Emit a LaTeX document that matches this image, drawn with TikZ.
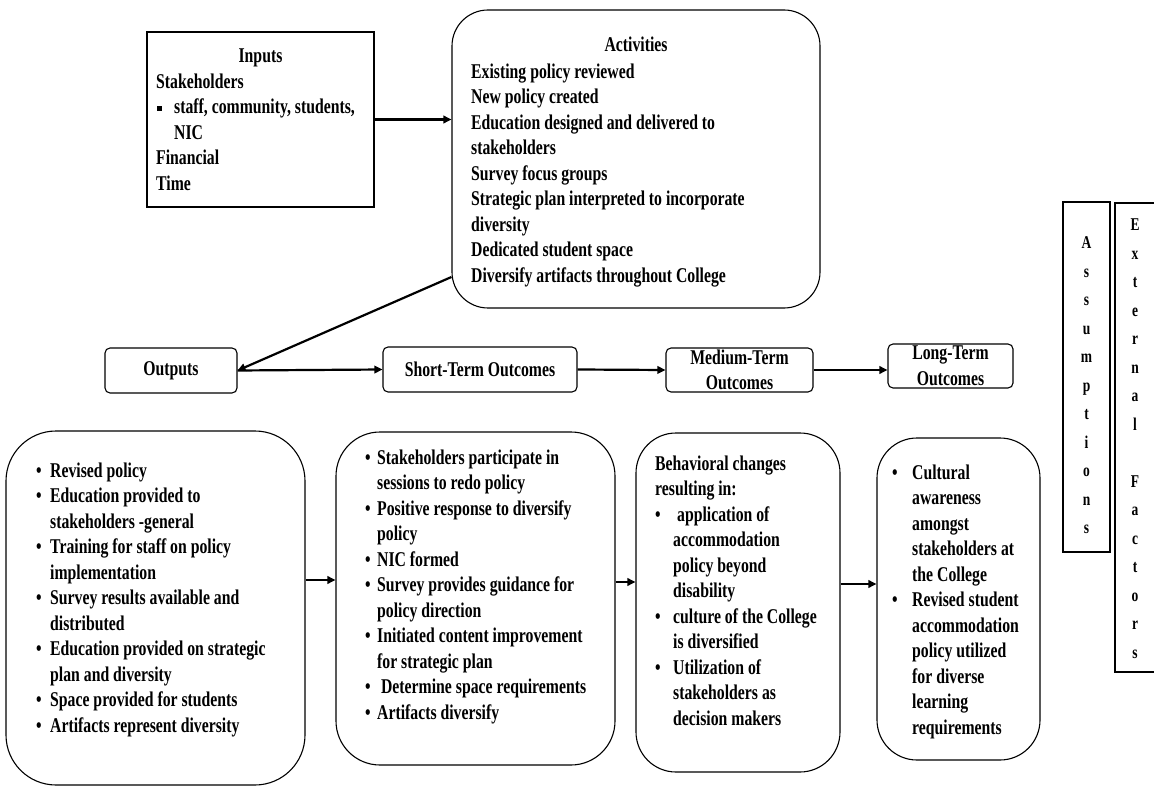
\documentclass[tikz,border=0pt]{standalone}
\usepackage{fontspec}
\setmainfont{Liberation Serif}[FakeStretch=0.75]
\usepackage{array}
\usetikzlibrary{arrows.meta}

% type sizes (the picture is laid out with 1pt = 1 unit)
\newcommand\bodytext{\fontsize{21}{25.5}\selectfont\bfseries}
\newcommand\lettertext{\fontsize{18}{28.5}\selectfont\bfseries}
% bullet cells of a given width
\newcommand\blt[1]{\makebox[#1][l]{\textbullet}}
\newcommand\sqblt{\makebox[18pt][l]{\hspace{1pt}\rule[3pt]{5pt}{5pt}}}

\begin{document}
\begin{tikzpicture}[x=1pt, y=-1pt, font=\bodytext,
  frame/.style={draw, line width=1.1pt, inner sep=0pt},
  roundframe/.style={frame, rounded corners=#1},
  listtext/.style={anchor=north west, inner sep=0pt},
  title/.style={anchor=base, inner sep=0pt},
  column/.style={inner sep=0pt, align=center, font=\lettertext},
  conn/.style={line width=2.2pt, -{Triangle[length=8pt,width=7.5pt]}}]

\fill[white] (0,0) rectangle (1154,786);
\useasboundingbox (0,0) rectangle (1154,786);

% ---------- top: inputs and activities ----------
\node[frame, minimum width=227pt, minimum height=175pt] (inp) at (260.5,119.5) {};
\node[title] (inptitle) at (260.5,63) {Inputs};
\node[listtext] (inplist) at (156,70) {\begin{tabular}{@{}l@{}l@{}}
\multicolumn{2}{@{}l@{}}{Stakeholders}\\
\sqblt & staff, community, students,\\
 & NIC\\
\multicolumn{2}{@{}l@{}}{Financial}\\
\multicolumn{2}{@{}l@{}}{Time}
\end{tabular}};

\node[roundframe=36pt, minimum width=368pt, minimum height=298pt] (act) at (636,159) {};
\node[title] (acttitle) at (636,52) {Activities};
\node[listtext] (actlist) at (471,60) {\begin{tabular}{@{}l@{}}
Existing policy reviewed\\
New policy created\\
Education designed and delivered to\\
stakeholders\\
Survey focus groups\\
Strategic plan interpreted to incorporate\\
diversity\\
Dedicated student space\\
Diversify artifacts throughout College
\end{tabular}};

% ---------- middle row of headings ----------
\node[roundframe=5pt, minimum width=132pt, minimum height=45pt] (out) at (171,370.5) {Outputs};
\node[roundframe=5pt, minimum width=194pt, minimum height=45pt] (short) at (480,369.5) {Short-Term Outcomes};
\node[roundframe=5pt, minimum width=147pt, minimum height=44pt, align=center] (med) at (739.5,370) {Medium-Term\\Outcomes};
\node[roundframe=5pt, minimum width=125pt, minimum height=44pt, align=center] (long) at (950.5,366) {Long-Term\\Outcomes};

% ---------- bottom row of detail boxes ----------
\node[roundframe=50pt, minimum width=299pt, minimum height=354pt] (b1) at (155.5,608) {};
\node[listtext] (b1list) at (36,459) {\begin{tabular}{@{}l@{}l@{}}
\blt{14pt} & Revised policy\\
\blt{14pt} & Education provided to\\
 & stakeholders -general\\
\blt{14pt} & Training for staff on policy\\
 & implementation\\
\blt{14pt} & Survey results available and\\
 & distributed\\
\blt{14pt} & Education provided on strategic\\
 & plan and diversity\\
\blt{14pt} & Space provided for students\\
\blt{14pt} & Artifacts represent diversity
\end{tabular}};

\node[roundframe=44pt, minimum width=279pt, minimum height=333pt] (b2) at (475.5,598.5) {};
\node[listtext] (b2list) at (365,446) {\begin{tabular}{@{}l@{}l@{}}
\blt{12pt} & Stakeholders participate in\\
 & sessions to redo policy\\
\blt{12pt} & Positive response to diversify\\
 & policy\\
\blt{12pt} & NIC formed\\
\blt{12pt} & Survey provides guidance for\\
 & policy direction\\
\blt{12pt} & Initiated content improvement\\
 & for strategic plan\\
\blt{12pt} & \ Determine space requirements\\
\blt{12pt} & Artifacts diversify
\end{tabular}};

\node[roundframe=40pt, minimum width=204pt, minimum height=339pt] (b3) at (738,602.5) {};
\node[listtext] (b3list) at (655,452) {\begin{tabular}{@{}l@{}l@{}}
\multicolumn{2}{@{}l@{}}{Behavioral changes}\\
\multicolumn{2}{@{}l@{}}{resulting in:}\\
\blt{18pt} & \ application of\\
 & accommodation\\
 & policy beyond\\
 & disability\\
\blt{18pt} & culture of the College\\
 & is diversified\\
\blt{18pt} & Utilization of\\
 & stakeholders as\\
 & decision makers
\end{tabular}};

\node[roundframe=40pt, minimum width=163pt, minimum height=322pt] (b4) at (958.5,599) {};
\node[listtext] (b4list) at (892,461) {\begin{tabular}{@{}l@{}l@{}}
\blt{20pt} & Cultural\\
 & awareness\\
 & amongst\\
 & stakeholders at\\
 & the College\\
\blt{20pt} & Revised student\\
 & accommodation\\
 & policy utilized\\
 & for diverse\\
 & learning\\
 & requirements
\end{tabular}};

% ---------- side columns, lettered vertically ----------
\node[frame, minimum width=47pt, minimum height=350pt] (assum) at (1086.5,377) {};
\node[column] (assumtext) at (1086.5,385.5) {A\\s\\s\\u\\m\\p\\t\\i\\o\\n\\s};
\node[frame, minimum width=42pt, minimum height=469pt] (ext) at (1136,437.5) {};
\node[column] (exttext) at (1135,438.5) {E\\x\\t\\e\\r\\n\\a\\l\\[28.5pt]F\\a\\c\\t\\o\\r\\s};

% ---------- connectors ----------
\draw[conn] (inp.east) -- (inp.east -| act.west);
\draw[conn] ([yshift=-118pt]act.west) -- (out.east);
\draw[conn] (out.east) -- (short.west);
\draw[conn] (short.east) -- (med.west);
\draw[conn] (med.east) -- (med.east -| long.west);
\draw[conn] ([yshift=28pt]b1.east) -- ([yshift=28pt]b1.east -| b2.west);
\draw[conn] ([yshift=16.5pt]b2.east) -- ([yshift=16.5pt]b2.east -| b3.west);
\draw[conn] ([yshift=18.5pt]b3.east) -- ([yshift=18.5pt]b3.east -| b4.west);
\end{tikzpicture}
\end{document}
